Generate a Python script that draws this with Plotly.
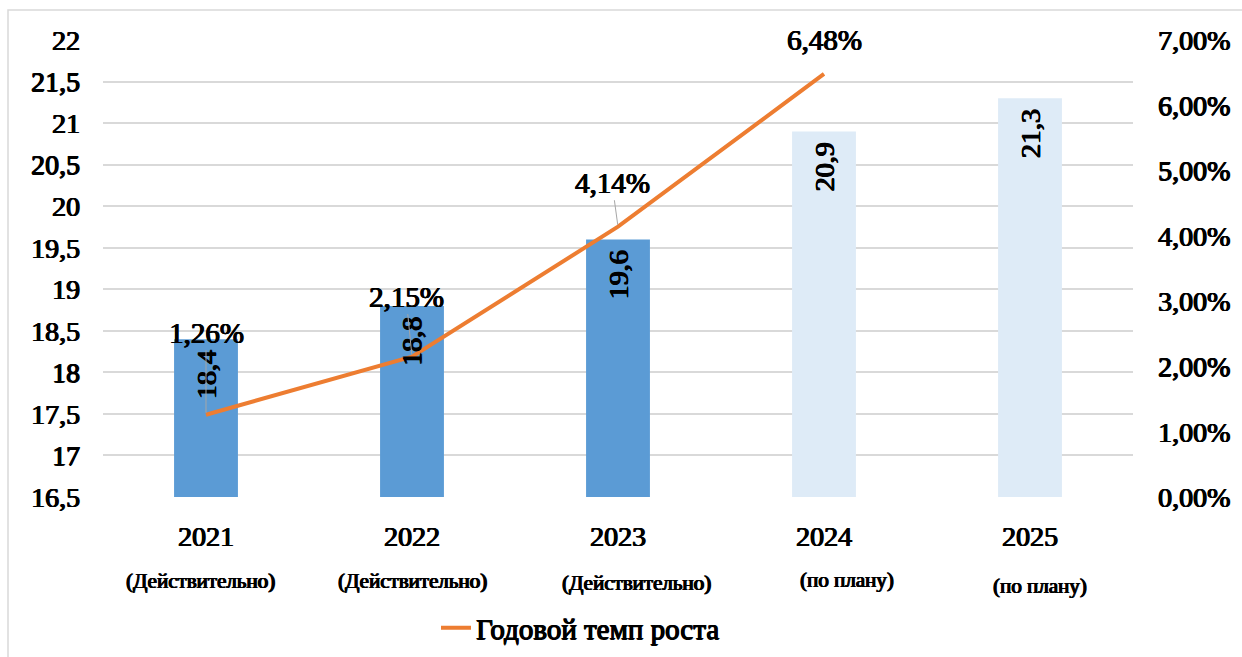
import plotly.graph_objects as go

years = ["2021", "2022", "2023", "2024", "2025"]
status = ["(Действительно)", "(Действительно)", "(Действительно)", "(по плану)", "(по плану)"]
values = [18.4, 18.8, 19.6, 20.9, 21.3]
planned = [False, False, False, True, True]
growth = [0.0126, 0.0215, 0.0414, 0.0648]
series_name = "Годовой темп роста"

FONT = "Liberation Serif"
BLUE = "#5B9BD5"
LIGHT = "#DEEBF7"
ORANGE = "#ED7D31"
GRID = "#D9D9D9"
# Liberation Serif Bold is not available: thicken the regular face with a text shadow
FAKE_BOLD = "0.8px 0 0 black, -0.5px 0 0 black, 0 0.4px 0 black"

L, R, T, B = 103, 1133, 40, 497
W, H = 1242, 657
pw, ph = R - L, B - T

def px_x(p):
    return (p - L) / pw

def px_y(p):
    return (B - p) / ph

def bfont(size):
    return dict(family=FONT, size=size, color="black", shadow=FAKE_BOLD)

xi = list(range(len(years)))
gi = xi[:len(growth)]

fig = go.Figure()
fig.add_trace(go.Bar(
    x=xi, y=values, width=0.31,
    marker=dict(color=[LIGHT if p else BLUE for p in planned], line=dict(width=0)),
    showlegend=False, hoverinfo="skip",
))
fig.add_trace(go.Scatter(
    x=gi, y=growth, yaxis="y2", mode="lines", name=series_name,
    line=dict(color=ORANGE, width=4),
))

ann = []
for i, v in zip(xi, values):
    ann.append(dict(x=i, y=v, xref="x", yref="y", text=f"{v:.1f}".replace(".", ","),
                    textangle=-90, showarrow=False, yshift=-36, font=bfont(28)))
offsets = [(0, -82, True), (-6, -60, True), (-6, -44, True), (0, -34, False)]
for i, g, (ax, ay, arrow) in zip(gi, growth, offsets):
    txt = f"{g*100:.2f}%".replace(".", ",")
    if arrow:
        ann.append(dict(x=i, y=g, xref="x", yref="y2", text=txt, showarrow=True,
                        ax=ax, ay=ay, arrowhead=0, arrowwidth=1, arrowcolor="#A6A6A6",
                        standoff=2, font=bfont(29)))
    else:
        ann.append(dict(x=i, y=g, xref="x", yref="y2", text=txt, showarrow=False,
                        yshift=-ay, font=bfont(29)))
sub_shift = [(-6, 581), (0, 581), (18, 583), (23, 580), (10, 586)]
for i, s, (xs, py) in zip(xi, status, sub_shift):
    ann.append(dict(x=i, y=px_y(py), xref="x", yref="paper", text=s, showarrow=False,
                    xshift=xs, yanchor="middle", font=bfont(21)))

fig.update_layout(
    width=W, height=H,
    margin=dict(l=L, r=W - R, t=T, b=H - B, pad=0),
    paper_bgcolor="white", plot_bgcolor="white",
    separators=", ",
    font=dict(family=FONT, color="black"),
    xaxis=dict(range=[-0.5, len(years) - 0.5], tickvals=xi, ticktext=years,
               showgrid=False, showline=False, zeroline=False, ticks="",
               tickfont=bfont(28), ticklabelstandoff=20),
    yaxis=dict(range=[16.5, 22], dtick=0.5, showgrid=True, gridcolor=GRID, gridwidth=1.5,
               zeroline=False, showline=False, tickfont=bfont(28), ticklabelstandoff=22),
    yaxis2=dict(range=[0, 0.07], dtick=0.01, overlaying="y", side="right",
                tickformat=".2%", showgrid=False, zeroline=False, showline=False,
                tickfont=bfont(28), ticklabelstandoff=24),
    legend=dict(x=px_x(436), xref="paper", y=1 - 628 / H, yref="container",
                xanchor="left", yanchor="middle",
                orientation="h", font=bfont(29), bgcolor="rgba(0,0,0,0)"),
    annotations=ann,
    shapes=[dict(type="rect", xref="paper", yref="paper",
                 x0=px_x(8), x1=px_x(W + 10), y0=px_y(H + 10), y1=px_y(10),
                 line=dict(color=GRID, width=1.5), layer="below")],
)

fig.write_html("out.html")
